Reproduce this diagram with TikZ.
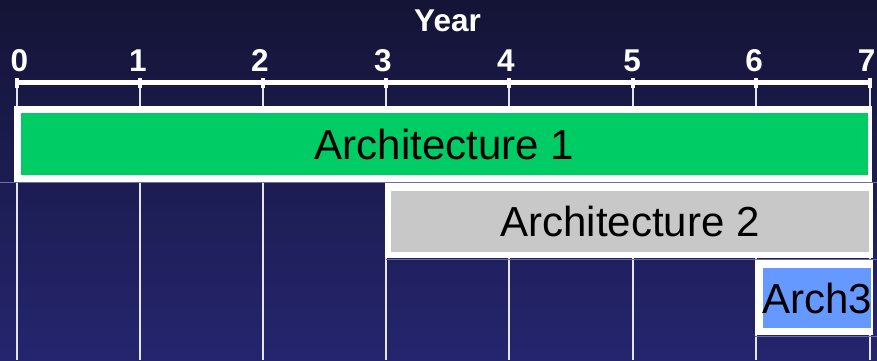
\documentclass[tikz,border=0pt]{standalone}
\usepackage{fontspec}
\setmainfont{Liberation Sans}
\begin{document}
\begin{tikzpicture}[x=1pt,y=-1pt,
  bartext/.style={inner sep=0pt, text=black, font=\fontsize{42}{48}\selectfont},
  barbox/.style={inner sep=0pt, draw=none},
  outerbox/.style={fill=white, inner sep=0pt, draw=none},
  axislabel/.style={text=white, inner sep=0pt, font=\bfseries\fontsize{31.5}{34}\selectfont},
  gridline/.style={draw=gridc, line width=2pt},
  cellline/.style={draw=cellc, line width=1pt},
  tickmark/.style={fill=white, inner sep=0pt, minimum width=4pt, minimum height=10pt, draw=none}
]
\definecolor{bgtop}{HTML}{141436}
\definecolor{bgbot}{HTML}{25256F}
\definecolor{archgreen}{HTML}{00CC66}
\definecolor{archgray}{HTML}{C8C8C8}
\definecolor{archblue}{HTML}{6699FF}
\definecolor{gridc}{HTML}{E4E4F2}
\definecolor{cellc}{HTML}{6E6EA6}
\useasboundingbox (0,0) rectangle (877,360);
\shade[top color=bgtop, bottom color=bgbot] (0,0) rectangle (877,360);
\clip (0,0) rectangle (877,360);

% year title
\node[axislabel] (year) at (447.5,21) {Year};

% tick coordinates
\foreach \n/\x in {0/17,1/140,2/263,3/386,4/509,5/633,6/755.5,7/870}{
  \coordinate (t\n) at (\x,82.5);
  \coordinate (b\n) at (\x,360);
}
% grid lines
\foreach \n in {0,...,7}{
  \draw[gridline] (t\n) -- (b\n);
}
% faint cell lines
\coordinate (r1a) at (0,182.5);  \coordinate (r1b) at (877,182.5);
\coordinate (r2a) at (386,259.5); \coordinate (r2b) at (877,259.5);
\coordinate (r3a) at (755,336);  \coordinate (r3b) at (877,336);
\draw[cellline] (r1a) -- (r1b);
\draw[cellline] (r2a) -- (r2b);
\draw[cellline] (r3a) -- (r3b);

% axis
\draw[draw=white, line width=4.5pt] (t0) -- (t7);
\foreach \n in {0,...,7}{
  \node[tickmark] (tm\n) at (t\n) {};
}
% axis labels
\foreach \n/\x in {0/19.5,1/138,2/260,3/383,4/506,5/632,6/754,7/866.5}{
  \node[axislabel, anchor=base] (l\n) at (\x,71) {\n};
}

% bars
\node[outerbox, minimum width=858pt, minimum height=76pt] (o1) at (443,144) {};
\node[barbox, fill=archgreen, minimum width=847pt, minimum height=62pt] (a1) at (444.5,144) {};
\node[bartext] (a1t) at (a1) {Architecture 1};

\node[outerbox, minimum width=488pt, minimum height=75pt] (o2) at (629,220.5) {};
\node[barbox, fill=archgray, minimum width=478pt, minimum height=61pt] (a2) at (630,221) {};
\node[bartext] (a2t) at (a2) {Architecture 2};

\node[outerbox, minimum width=118pt, minimum height=75pt] (o3) at (814,297.5) {};
\node[barbox, fill=archblue, minimum width=108pt, minimum height=60.5pt] (a3) at (817,298) {};
\node[bartext] (a3t) at (a3) {Arch3};
\end{tikzpicture}
\end{document}
